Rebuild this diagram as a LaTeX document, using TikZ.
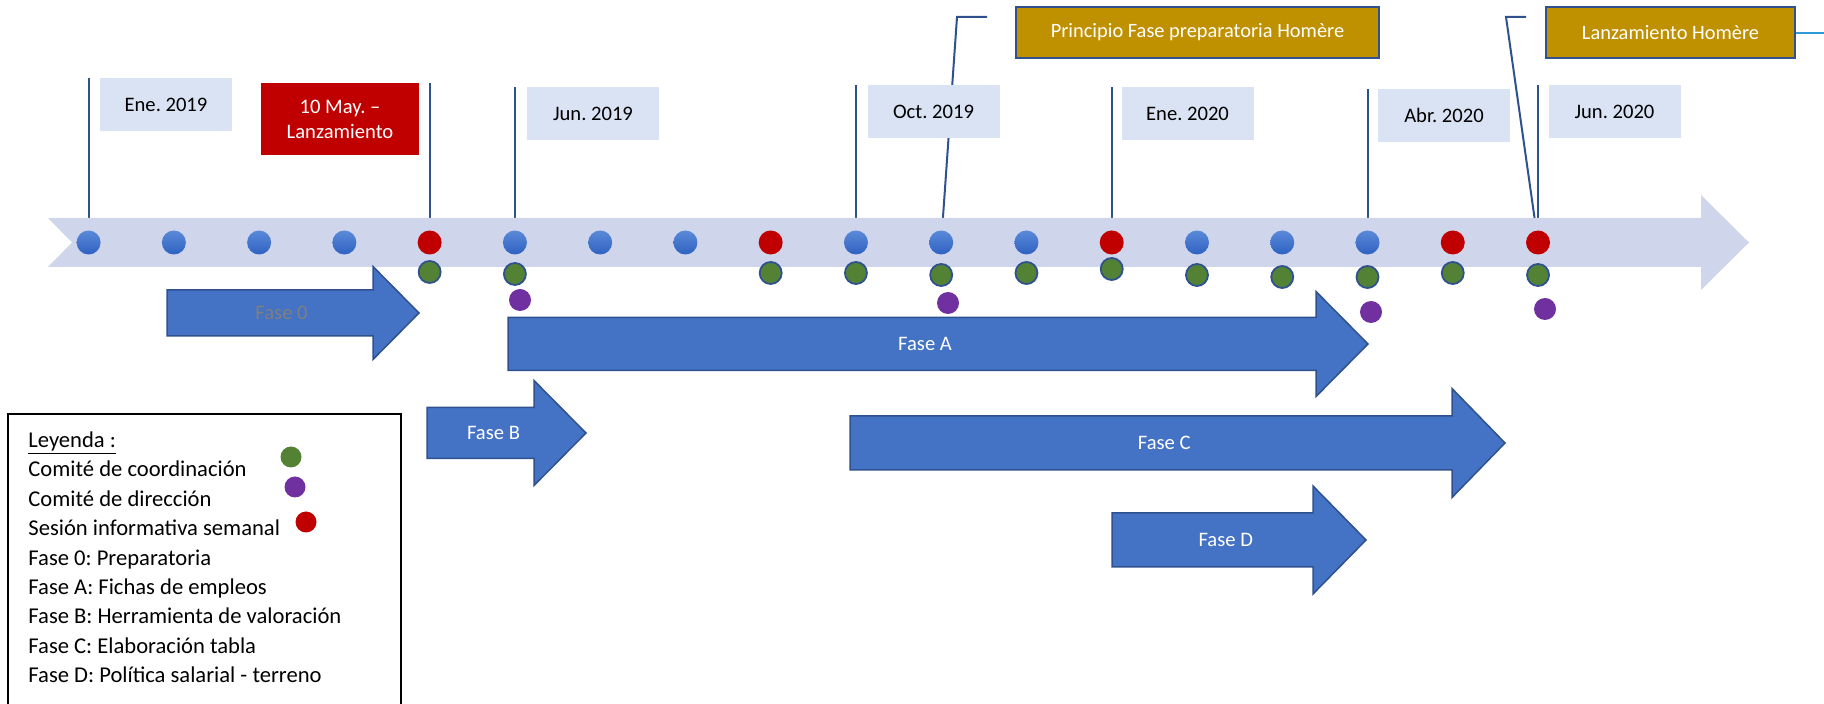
\documentclass[tikz,border=0pt]{standalone}
\usepackage{fontspec}
\setmainfont{Carlito}

\definecolor{banda}{HTML}{CFD5EA}
\definecolor{etiq}{HTML}{DAE3F3}
\definecolor{rojo}{HTML}{C00000}
\definecolor{oro}{HTML}{BF9000}
\definecolor{borde}{HTML}{2F528F}
\definecolor{azulfase}{HTML}{4472C4}
\definecolor{verde}{HTML}{548235}
\definecolor{morado}{HTML}{7030A0}
\definecolor{celeste}{HTML}{2E9BD6}
\definecolor{gris}{HTML}{7F7F7F}
\definecolor{azulclaro}{HTML}{5B8AD8}
\definecolor{azuloscuro}{HTML}{2E62C2}

\begin{document}
\frenchspacing
\begin{tikzpicture}[x=0.5pt, y=-0.5pt,
    every node/.style={font=\fontsize{10.3}{12.5}\selectfont},
    etiqueta/.style={fill=etiq, minimum width=66pt, minimum height=26.5pt, inner sep=0pt},
    hito/.style={fill=oro, draw=borde, line width=1pt, minimum height=25.5pt, inner sep=0pt,
        text=white, font=\fontsize{10.2}{12.5}\selectfont},
    palo/.style={draw=borde, line width=1pt},
    fase/.style={fill=azulfase, draw=borde, line width=0.75pt},
    bolaazul/.style={circle, minimum size=12pt, inner sep=0pt, top color=azulclaro, bottom color=azuloscuro},
    bolaroja/.style={circle, minimum size=12pt, inner sep=0pt, fill=rojo},
    bolaverde/.style={circle, minimum size=11pt, inner sep=0pt, fill=verde, draw=borde, line width=0.9pt},
    bolamorada/.style={circle, minimum size=11pt, inner sep=0pt, fill=morado},
    leyenda/.style={anchor=base west, inner sep=0pt, font=\fontsize{11.3}{13}\selectfont}]

    \useasboundingbox (0,0) rectangle (1824,704);

    %Points on the timeline
    \foreach \i in {0,...,17}
    \coordinate (t\i) at ({88.6+85.26*\i},242.5);

    %Callouts to the milestones
    \coordinate (codoA) at (957,17);
    \coordinate (codoB) at (1506,17);
    \draw[palo] (t10) -- (codoA) -- ++(30,0);
    \draw[palo] (t17) -- (codoB) -- ++(20,0);

    %Date labels
    \node[etiqueta] (ene19) at (166,104.5) {Ene. 2019};
    \node[etiqueta] (jun19) at (593,113.5) {Jun. 2019};
    \node[etiqueta] (oct19) at (933.5,111.5) {Oct. 2019};
    \node[etiqueta] (ene20) at (1187.5,113.5) {Ene. 2020};
    \node[etiqueta] (abr20) at (1444,115.5) {Abr. 2020};
    \node[etiqueta] (jun20) at (1614.5,111.5) {Jun. 2020};
    \node[fill=rojo, text=white, align=center, minimum width=79pt, minimum height=36pt, inner sep=0pt]
        (lanz19) at (340,119) {10 May. --\\Lanzamiento};

    %Milestones
    \node[hito, minimum width=181.5pt] (princ) at (1197.5,32.5) {Principio Fase preparatoria Homère};
    \node[hito, minimum width=124.5pt] (lanzH) at (1670.5,33) {Lanzamiento Homère};
    \coordinate (borde) at (1824,29);
    \draw[celeste, line width=1pt] (lanzH.east) -- (lanzH.east -| borde);

    %Ticks
    \foreach \i/\lab in {0/ene19, 4/lanz19, 5/jun19, 9/oct19, 12/ene20, 15/abr20, 17/jun20}
    \draw[palo] (t\i) -- (t\i |- \lab.north);

    %Timeline
    \fill[banda] (48,218) -- (1701,218) -- (1701,195) -- (1749,242.5) -- (1701,290)
        -- (1701,267) -- (48,267) -- (72,242.5) -- cycle;

    \foreach \c [count=\i from 0] in {azul,azul,azul,azul,roja,azul,azul,azul,roja,
        azul,azul,azul,roja,azul,azul,azul,roja,roja}
    \node[bola\c] (p\i) at (t\i) {};

    %Phases
    \foreach \xa/\xb/\xc/\yc/\hb/\hh/\nom/\col in {167/373/419/313/23/46.5/0/gris,
        508/1316/1368/344/26.5/52.5/A/white, 427/534/586/433/25.5/52.5/B/white,
        850/1452/1505/443/27/54.5/C/white, 1112/1313/1366/540/27/54/D/white}
    {
    \draw[fase] (\xa,\yc-\hb) -- (\xb,\yc-\hb) -- (\xb,\yc-\hh) -- (\xc,\yc)
        -- (\xb,\yc+\hh) -- (\xb,\yc+\hb) -- (\xa,\yc+\hb) -- cycle;
    \node[text=\col] (fase\nom) at ({(\xa+(\xb+\xc)/2)/2},\yc) {Fase \nom};
    }

    %Committees
    \foreach \i/\y in {4/272, 5/274, 8/273, 9/273, 10/275, 11/273, 12/269, 13/275,
        14/277, 15/277, 16/273, 17/275}
    \node[bolaverde] (cc\i) at (t\i |- 0,\y) {};
    \foreach \x/\y [count=\i] in {520/300, 948/303, 1371/312, 1545/309}
    \node[bolamorada] (cd\i) at (\x,\y) {};

    %Legend
    \draw[line width=0.75pt] (8,704) -- (8,414) -- (401,414) -- (401,704);
    \foreach \txt [count=\i from 0] in {\underline{Leyenda :}, Comité de coordinación,
        Comité de dirección, Sesión informativa semanal, Fase 0: Preparatoria,
        Fase A: Fichas de empleos, Fase B: Herramienta de valoración,
        Fase C: Elaboración tabla, Fase D: Política salarial - terreno}
    \node[leyenda] (ley\i) at (28,{447.3+29.45*\i}) {\txt};

    \node[bolaverde, draw=none, minimum size=10.5pt] (leyverde) at (291,457) {};
    \node[bolamorada, minimum size=10.5pt] (leymorado) at (295,487) {};
    \node[bolaroja, minimum size=10.5pt] (leyrojo) at (306,522) {};

\end{tikzpicture}
\end{document}
